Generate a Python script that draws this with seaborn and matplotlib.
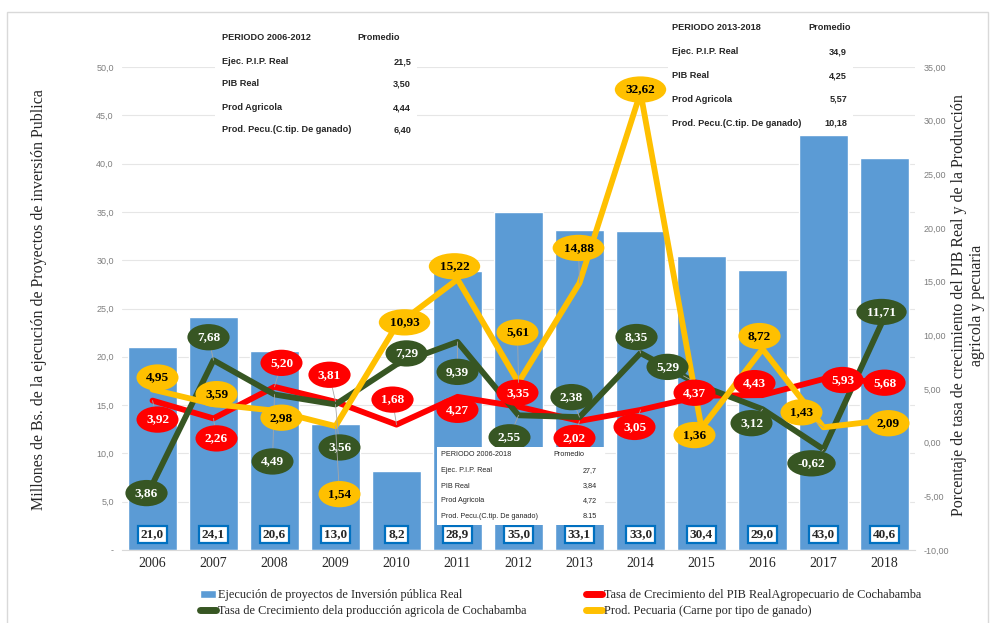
import matplotlib

matplotlib.use("Agg")
import matplotlib.pyplot as plt
import numpy as np
import seaborn as sns
from matplotlib.lines import Line2D
from matplotlib.patches import Patch, Rectangle
from matplotlib.ticker import FuncFormatter, MultipleLocator

sns.set_style("white")
plt.rcParams["font.family"] = ["Liberation Serif", "DejaVu Serif"]

# ---- data -------------------------------------------------------------
years = ["2006", "2007", "2008", "2009", "2010", "2011", "2012",
         "2013", "2014", "2015", "2016", "2017", "2018"]
inversion = [21.0, 24.1, 20.6, 13.0, 8.2, 28.9, 35.0, 33.1, 33.0, 30.4, 29.0, 43.0, 40.6]
pib = [3.92, 2.26, 5.20, 3.81, 1.68, 4.27, 3.35, 2.02, 3.05, 4.37, 4.43, 5.93, 5.68]
agricola = [-3.86, 7.68, 4.49, 3.56, 7.29, 9.39, 2.55, 2.38, 8.35, 5.29, 3.12, -0.62, 11.71]
pecuaria = [4.95, 3.59, 2.98, 1.54, 10.93, 15.22, 5.61, 14.88, 32.62, 1.36, 8.72, 1.43, 2.09]

# the source chart prints the first agricola label without its minus sign
agricola_text = ["3,86"] + [f"{v:.2f}".replace(".", ",") for v in agricola[1:]]

table_rows = ["Ejec. P.I.P. Real", "PIB Real", "Prod Agricola", "Prod. Pecu.(C.tip. De ganado)"]
prom_2006_2012 = ["21,5", "3,50", "4,44", "6,40"]
prom_2013_2018 = ["34,9", "4,25", "5,57", "10,18"]
prom_2006_2018 = ["27,7", "3,84", "4,72", "8.15"]

legend_labels = [
    "Ejecución de proyectos de Inversión pública Real",
    "Tasa de Crecimiento dela producción agricola de Cochabamba",
    "Tasa de Crecimiento del PIB RealAgropecuario de Cochabamba",
    "Prod. Pecuaria (Carne por tipo de ganado)",
]

# ---- styling ----------------------------------------------------------
BLUE = "#5B9BD5"
RED = "#FF0000"
GREEN = "#375623"
GOLD = "#FFC000"
W, H = 994, 623

# label offsets in pixels (dx right, dy down) from each point
off_green = [(-6, 9), (-5, -23), (-2, 67), (4, 43), (10, -11), (0, 30), (-9, 22),
             (-8, -20), (-4, -16), (-34, -19), (-11, 14), (-12, 14), (-3, -5)]
off_red = [(5, 19), (3, 20), (7, -24), (-6, -27), (-4, -25), (0, 13), (-1, -14),
           (-5, 17), (-6, 17), (-7, -3), (-8, -12), (19, 1), (0, 1)]
off_gold = [(5, -12), (3, -10), (7, 7), (4, 68), (8, -3), (-3, -13), (-1, -50),
            (-1, -35), (0, -3), (-7, 7), (-3, -13), (-22, -15), (4, 3)]


def comma(v, nd):
    return f"{v:.{nd}f}".replace(".", ",")


fig = plt.figure(figsize=(W / 100, H / 100), dpi=100)
ax = fig.add_axes([122 / W, 73 / H, 793 / W, 483 / H])

sns.barplot(x=years, y=inversion, ax=ax, color=BLUE, saturation=1, width=0.8, zorder=2)
ax.set_ylim(0, 50)
ax.set_xlim(-0.5, len(years) - 0.5)
ax.yaxis.set_major_locator(MultipleLocator(5))
ax.yaxis.set_major_formatter(FuncFormatter(lambda v, p: "-" if v == 0 else comma(v, 1)))
ax.yaxis.grid(True, color="#e6e6e6", lw=0.8)
ax.set_axisbelow(True)
for s in ["left", "right", "top"]:
    ax.spines[s].set_visible(False)
ax.spines["bottom"].set_color("#d9d9d9")
ax.tick_params(axis="y", length=0, labelsize=6.5, labelcolor="#7f7f7f", pad=6)
ax.tick_params(axis="x", length=0, labelsize=10, pad=5)
for t in ax.get_yticklabels():
    t.set_family("Liberation Sans")
ax.set_xlabel("")
ax.set_ylabel("Millones de Bs. de la ejecución de Proyectos de inversión Publica", fontsize=11.5)
ax.yaxis.set_label_coords((47 - 122) / 793, (550 - 300) / 483)

for i, v in enumerate(inversion):
    ax.text(i, 1.6, comma(v, 1), ha="center", va="center", fontsize=9.5, fontweight="bold",
            zorder=5, bbox=dict(boxstyle="square,pad=0.22", fc="white", ec="#0070C0", lw=1.6))

ax2 = ax.twinx()
ax2.set_position(ax.get_position())
x = np.arange(len(years))
for vals, col in [(pib, RED), (agricola, GREEN), (pecuaria, GOLD)]:
    sns.lineplot(x=x, y=vals, ax=ax2, color=col, lw=4.2, sort=False,
                 solid_joinstyle="round", solid_capstyle="round", zorder=3)
ax2.set_ylim(-10, 35)
ax2.yaxis.set_major_locator(MultipleLocator(5))
ax2.yaxis.set_major_formatter(FuncFormatter(lambda v, p: comma(v, 2)))
for s in ax2.spines.values():
    s.set_visible(False)
ax2.tick_params(axis="y", length=0, labelsize=6.5, labelcolor="#7f7f7f", pad=6)
for t in ax2.get_yticklabels():
    t.set_family("Liberation Sans")
ax2.set_ylabel("Porcentaje de tasa de crecimiento del PIB Real y de la Producción\nagricola y pecuaria",
               fontsize=11.5, rotation=90, multialignment="center")
ax2.yaxis.set_label_coords((951 - 122) / 793, (550 - 305) / 483)


def point_labels(vals, texts, offsets, fc, tc):
    for i, (v, t, (dx, dy)) in enumerate(zip(vals, texts, offsets)):
        arrow = None
        if np.hypot(dx, dy) > 15:
            arrow = dict(arrowstyle="-", color="#a6a6a6", lw=0.6, shrinkA=0, shrinkB=0)
        ax2.annotate(t, (i, v), xytext=(dx, -dy), textcoords="offset pixels",
                     ha="center", va="center", fontsize=9.5, fontweight="bold", color=tc,
                     zorder=6, arrowprops=arrow,
                     bbox=dict(boxstyle="ellipse,pad=0.25", fc=fc, ec="none"))


point_labels(agricola, agricola_text, off_green, GREEN, "white")
point_labels(pib, [comma(v, 2) for v in pib], off_red, RED, "white")
point_labels(pecuaria, [comma(v, 2) for v in pecuaria], off_gold, GOLD, "black")


# ---- summary tables ---------------------------------------------------
def table(box, title, x_title, x_prom, x_val, ys, values, size, weight):
    x0, y0, x1, y1 = box
    fig.add_artist(Rectangle((x0 / W, 1 - y1 / H), (x1 - x0) / W, (y1 - y0) / H,
                             transform=fig.transFigure, fc="white", ec="none", zorder=4))
    kw = dict(fontsize=size, fontweight=weight, va="center", zorder=5,
              family=["Liberation Sans Narrow", "Liberation Sans"])
    fig.text(x_title / W, 1 - ys[0] / H, title, ha="left", **kw)
    fig.text(x_prom / W, 1 - ys[0] / H, "Promedio", ha="left", **kw)
    for name, val, yy in zip(table_rows, values, ys[1:]):
        fig.text(x_title / W, 1 - yy / H, name, ha="left", **kw)
        fig.text(x_val / W, 1 - yy / H, val, ha="right", **kw)


table((215, 22, 417, 150), "PERIODO 2006-2012", 222, 357, 411,
      [37, 62, 84, 108, 130], prom_2006_2012, 6.6, "bold")
table((668, 15, 853, 132), "PERIODO 2013-2018", 672, 808, 847,
      [27, 52, 76, 99, 123], prom_2013_2018, 6.6, "bold")
table((437, 447, 605, 525), "PERIODO 2006-2018", 441, 553, 597,
      [455, 471, 486, 501, 516], prom_2006_2018, 5.2, "normal")

# ---- legend and frame ---------------------------------------------------
handles = [
    Patch(facecolor=BLUE),
    Line2D([], [], color=GREEN, lw=5, solid_capstyle="round"),
    Line2D([], [], color=RED, lw=5, solid_capstyle="round"),
    Line2D([], [], color=GOLD, lw=5, solid_capstyle="round"),
]
fig.legend(handles, legend_labels, ncol=2, loc="upper left",
           bbox_to_anchor=(194 / W, 1 - 583 / H), frameon=False, fontsize=8.8,
           handlelength=1.3, handleheight=0.6, handletextpad=0.2,
           columnspacing=4.8, labelspacing=0.3, borderpad=0)

fig.add_artist(Rectangle((7 / W, -0.01), 981 / W, 1 - 12 / H + 0.01, transform=fig.transFigure,
                         fill=False, ec="#d9d9d9", lw=1, zorder=0))

fig.savefig("out.png", dpi=100)
